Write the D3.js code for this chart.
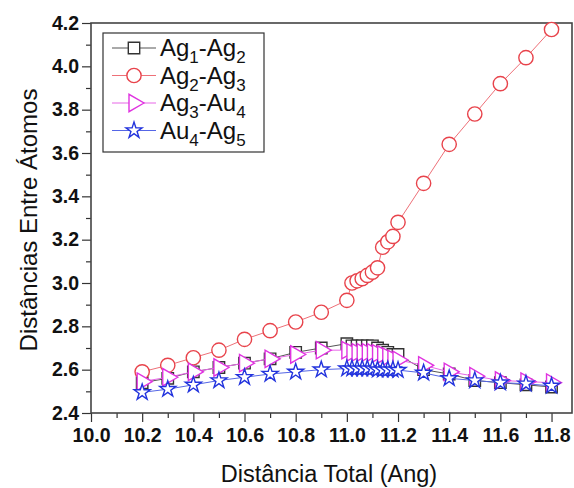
<!DOCTYPE html>
<html>
<head>
<meta charset="utf-8">
<script src="https://cdn.jsdelivr.net/npm/d3@7"></script>
<style>
  body { margin: 0; background: #fff; }
  svg { font-family: "Liberation Sans", Arial, sans-serif; }
</style>
</head>
<body>
<div id="chart"></div>
<script>
// distancia total (Ang)
const xValues = [10.2, 10.3, 10.4, 10.5, 10.6, 10.7, 10.8, 10.9, 11.0,
  11.02, 11.04, 11.06, 11.08, 11.10, 11.12, 11.14, 11.16, 11.18, 11.20,
  11.3, 11.4, 11.5, 11.6, 11.7, 11.8];

const ag1ag2 = [2.54, 2.56, 2.59, 2.61, 2.63, 2.65, 2.68, 2.70, 2.72,
  2.71, 2.71, 2.71, 2.71, 2.71, 2.70, 2.69, 2.68, 2.67, 2.67,
  2.60, 2.58, 2.55, 2.54, 2.53, 2.52];
const ag2ag3 = [2.59, 2.62, 2.655, 2.69, 2.74, 2.78, 2.82, 2.865, 2.92,
  3.00, 3.01, 3.02, 3.035, 3.05, 3.07, 3.165, 3.19, 3.215, 3.28,
  3.46, 3.64, 3.78, 3.92, 4.04, 4.17];
const ag3au4 = [2.545, 2.565, 2.59, 2.61, 2.63, 2.65, 2.67, 2.69, 2.69,
  2.68, 2.68, 2.68, 2.68, 2.68, 2.675, 2.67, 2.66, 2.65, 2.645,
  2.62, 2.59, 2.57, 2.55, 2.545, 2.54];
const au4ag5 = [2.495, 2.51, 2.53, 2.55, 2.565, 2.58, 2.59, 2.60, 2.605,
  2.605, 2.605, 2.605, 2.605, 2.605, 2.60, 2.60, 2.60, 2.60, 2.598,
  2.585, 2.56, 2.55, 2.54, 2.535, 2.525];

const xTicks = [10.0, 10.2, 10.4, 10.6, 10.8, 11.0, 11.2, 11.4, 11.6, 11.8];
const yTicks = [2.4, 2.6, 2.8, 3.0, 3.2, 3.4, 3.6, 3.8, 4.0, 4.2];

const series = [
  { name: ['Ag', '1', '-Ag', '2'], values: ag1ag2, color: '#333333', line: '#555555', symbol: 'square' },
  { name: ['Ag', '2', '-Ag', '3'], values: ag2ag3, color: '#e8434b', line: '#ee7078', symbol: 'circle' },
  { name: ['Ag', '3', '-Au', '4'], values: ag3au4, color: '#e033e0', line: '#e766e7', symbol: 'triangle' },
  { name: ['Au', '4', '-Ag', '5'], values: au4ag5, color: '#2233dd', line: '#5566e6', symbol: 'star' }
];

const width = 574, height = 488;
const margin = { top: 23, right: 2, bottom: 75, left: 91 };
const ctrWidth = width - margin.left - margin.right;
const ctrHeight = height - margin.top - margin.bottom;

const svg = d3.select('#chart')
  .append('svg')
  .attr('width', width)
  .attr('height', height);

const ctr = svg.append('g')
  .attr('transform', `translate(${margin.left}, ${margin.top})`);

const xScale = d3.scaleLinear()
  .domain([10.0, 11.88])
  .range([0, ctrWidth]);

const yScale = d3.scaleLinear()
  .domain([2.4, 4.2])
  .range([ctrHeight, 0]);

// minor ticks
const xMinor = d3.range(10.1, 11.85, 0.2);
const yMinor = d3.range(2.5, 4.15, 0.2);

ctr.append('g')
  .attr('transform', `translate(0, ${ctrHeight})`)
  .call(d3.axisBottom(xScale).tickValues(xMinor).tickSize(5).tickFormat(''))
  .call(g => g.select('.domain').remove())
  .selectAll('line').attr('stroke', '#333').attr('stroke-width', 1.2);

ctr.append('g')
  .call(d3.axisLeft(yScale).tickValues(yMinor).tickSize(5).tickFormat(''))
  .call(g => g.select('.domain').remove())
  .selectAll('line').attr('stroke', '#333').attr('stroke-width', 1.2);

const xAxis = ctr.append('g')
  .attr('transform', `translate(0, ${ctrHeight})`)
  .call(d3.axisBottom(xScale).tickValues(xTicks).tickSize(9).tickPadding(6).tickFormat(d3.format('.1f')));
xAxis.select('.domain').remove();
xAxis.selectAll('line').attr('stroke', '#333').attr('stroke-width', 1.2);
xAxis.selectAll('text').attr('font-size', 19.5).attr('font-weight', 'bold').attr('fill', '#111')
  .attr('font-family', '"Liberation Sans", Arial, sans-serif');

const yAxis = ctr.append('g')
  .call(d3.axisLeft(yScale).tickValues(yTicks).tickSize(9).tickPadding(3).tickFormat(d3.format('.1f')));
yAxis.select('.domain').remove();
yAxis.selectAll('line').attr('stroke', '#333').attr('stroke-width', 1.2);
yAxis.selectAll('text').attr('font-size', 19.5).attr('font-weight', 'bold').attr('fill', '#111')
  .attr('font-family', '"Liberation Sans", Arial, sans-serif');

// frame
ctr.append('rect')
  .attr('width', ctrWidth)
  .attr('height', ctrHeight)
  .attr('fill', 'none')
  .attr('stroke', '#444')
  .attr('stroke-width', 1.6);

const symbolTypes = {
  square: d3.symbolSquare,
  circle: d3.symbolCircle,
  triangle: d3.symbolTriangle,
  star: d3.symbolStar
};
const symbolSizes = { square: 130, circle: 160, triangle: 130, star: 80 };

function symbolPath(s) {
  return d3.symbol().type(symbolTypes[s]).size(symbolSizes[s])();
}
function symbolRotate(s) {
  return s === 'triangle' ? 90 : 0;
}

const line = d3.line()
  .x(d => xScale(d[0]))
  .y(d => yScale(d[1]));

series.forEach(s => {
  const pts = xValues.map((x, i) => [x, s.values[i]]);
  ctr.append('path')
    .datum(pts)
    .attr('d', line)
    .attr('fill', 'none')
    .attr('stroke', s.line)
    .attr('stroke-width', 1);

  ctr.append('g')
    .selectAll('path')
    .data(pts)
    .join('path')
    .attr('d', symbolPath(s.symbol))
    .attr('transform', d => `translate(${xScale(d[0])}, ${yScale(d[1])}) rotate(${symbolRotate(s.symbol)})`)
    .attr('fill', 'white')
    .attr('stroke', s.color)
    .attr('stroke-width', 1.4);
});

// legend
const legend = svg.append('g').attr('transform', 'translate(103, 33)');
legend.append('rect')
  .attr('width', 161)
  .attr('height', 119)
  .attr('fill', 'white')
  .attr('stroke', '#333')
  .attr('stroke-width', 1.2);

series.forEach((s, i) => {
  const y = 15 + i * 27.5;
  const row = legend.append('g').attr('transform', `translate(0, ${y})`);
  row.append('line')
    .attr('x1', 9).attr('x2', 53)
    .attr('stroke', s.line).attr('stroke-width', 1);
  row.append('path')
    .attr('d', symbolPath(s.symbol))
    .attr('transform', `translate(31, 0) rotate(${symbolRotate(s.symbol)})`)
    .attr('fill', 'white')
    .attr('stroke', s.color)
    .attr('stroke-width', 1.4);
  const t = row.append('text')
    .attr('x', 57)
    .attr('y', 8)
    .attr('font-size', 24)
    .attr('fill', '#111');
  t.append('tspan').text(s.name[0]);
  t.append('tspan').attr('font-size', 17).attr('dy', 7).text(s.name[1]);
  t.append('tspan').attr('dy', -7).text(s.name[2]);
  t.append('tspan').attr('font-size', 17).attr('dy', 7).text(s.name[3]);
});

// axis titles
svg.append('text')
  .attr('x', margin.left + xScale(10.93))
  .attr('y', 482)
  .attr('text-anchor', 'middle')
  .attr('font-size', 23.5)
  .attr('fill', '#111')
  .text('Distância Total (Ang)');

svg.append('text')
  .attr('transform', `translate(37, ${margin.top + ctrHeight / 2 + 2}) rotate(-90)`)
  .attr('text-anchor', 'middle')
  .attr('font-size', 24)
  .attr('fill', '#111')
  .text('Distâncias Entre Átomos');
</script>
</body>
</html>
